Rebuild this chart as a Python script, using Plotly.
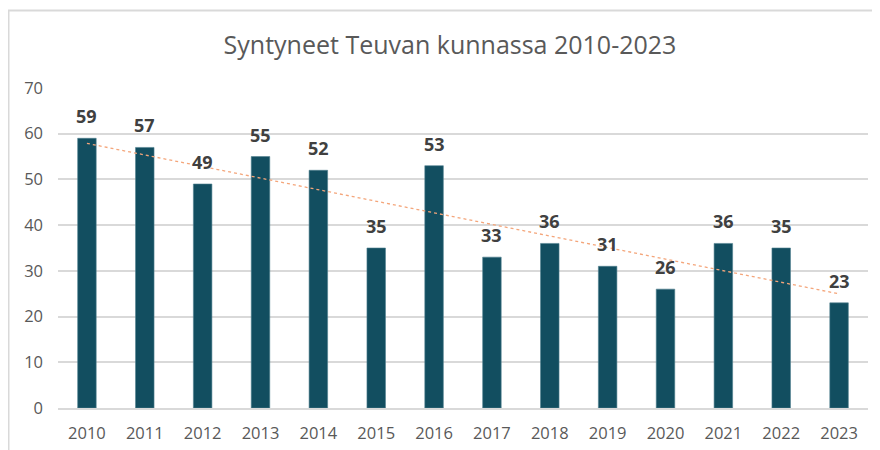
import plotly.graph_objects as go

years = ["2010", "2011", "2012", "2013", "2014", "2015", "2016", "2017", "2018", "2019", "2020", "2021", "2022", "2023"]
births = [59, 57, 49, 55, 52, 35, 53, 33, 36, 31, 26, 36, 35, 23]
y_ticks = [0, 10, 20, 30, 40, 50, 60, 70]
title_text = "Syntyneet Teuvan kunnassa 2010-2023"

# linear trendline (least squares, as in the spreadsheet chart)
n = len(births)
xs = list(range(n))
mx = sum(xs) / n
my = sum(births) / n
slope = sum((x - mx) * (y - my) for x, y in zip(xs, births)) / sum((x - mx) ** 2 for x in xs)
intercept = my - slope * mx
trend = [intercept + slope * x for x in xs]

BAR = "#124E60"
TXT = "#595959"
GRID = "#D9D9D9"
FONT = "Open Sans"

# page is rendered with an 8px body margin, so figure pixel = page pixel - 8
OFF = 8
W, H = 880, 450
L = 58 - OFF
T = 88 - OFF
R = W - (868 - OFF)
B = H - (408 - OFF)
pw, ph = W - L - R, H - T - B

def px(x):
    return (x - OFF - L) / pw

def py(y):
    return (H - B - (y - OFF)) / ph

fig = go.Figure()
fig.add_trace(go.Bar(
    x=years, y=births,
    marker=dict(color=BAR, line=dict(color="#4F7F8E", width=0.6)),
    hoverinfo="x+y",
))
fig.add_trace(go.Scatter(
    x=years, y=trend, mode="lines",
    line=dict(color="#F4A57A", width=1.3, dash="dot"),
    hoverinfo="skip",
))

for i, v in enumerate(births):
    fig.add_annotation(
        x=i, y=v, text="<b>%d</b>" % v, showarrow=False,
        yanchor="bottom", yshift=8,
        font=dict(family=FONT, size=18, color="#404040"),
    )

# chart frame (light grey border)
fig.add_shape(type="line", xref="paper", yref="paper",
              x0=px(8.5), x1=px(8.5), y0=py(10), y1=py(470),
              line=dict(color=GRID, width=2))
fig.add_shape(type="line", xref="paper", yref="paper",
              x0=px(8), x1=px(900), y0=py(10.5), y1=py(10.5),
              line=dict(color=GRID, width=2))

fig.update_layout(
    width=W, height=H,
    margin=dict(l=L, r=R, t=T, b=B),
    paper_bgcolor="white", plot_bgcolor="white",
    showlegend=False,
    bargap=0.68,
    title=dict(text=title_text, xref="container", x=(450 - OFF) / W, xanchor="center",
               yref="container", y=1 - (45 - OFF) / H, yanchor="middle",
               font=dict(family=FONT, size=25, color=TXT)),
    xaxis=dict(type="category", range=[-0.5, n - 0.5], showgrid=False, showline=True,
               linecolor=GRID, linewidth=1.5, ticklabelstandoff=9,
               ticks="", tickfont=dict(family=FONT, size=16.5, color=TXT)),
    yaxis=dict(range=[0, 70], tickvals=y_ticks, showgrid=True, gridcolor=GRID, gridwidth=1.5,
               zeroline=False, showline=False, ticks="", ticklabelstandoff=14,
               tickfont=dict(family=FONT, size=16.5, color=TXT)),
)

fig.write_html("out.html")
